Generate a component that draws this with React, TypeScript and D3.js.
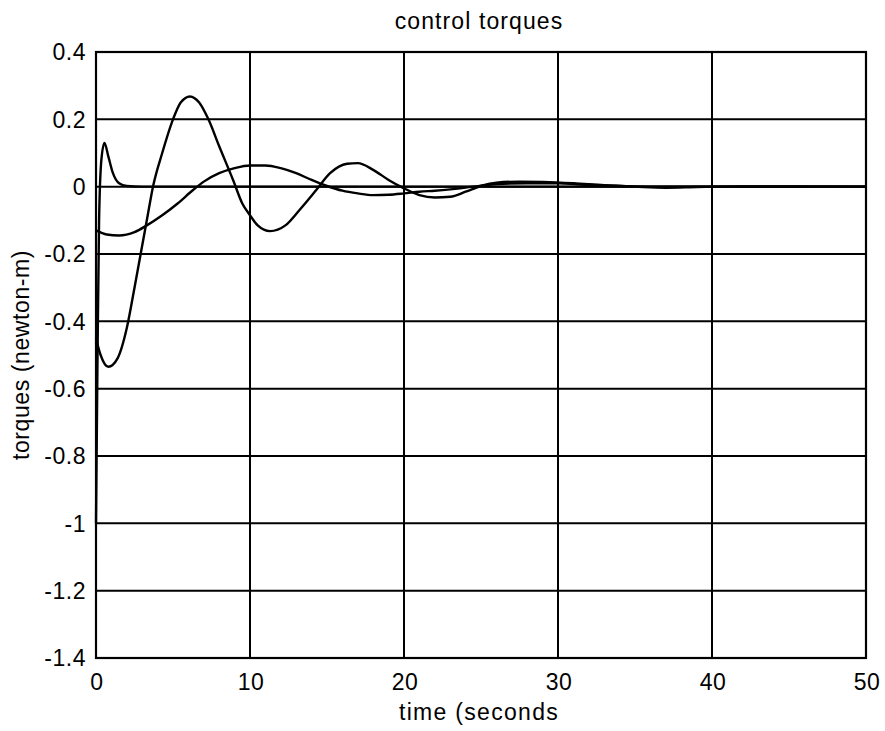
import React, { useEffect, useRef } from 'react';
import * as d3 from 'd3';

// time samples and torques
const timeA = [0, 0.3, 0.8, 1.4, 2, 2.5, 2.9, 3.3, 3.7, 4.3, 5, 5.5, 6.1, 6.7, 7.3, 8, 8.9, 9.5, 10, 10.5, 11.3, 12.3, 13.2, 14.3, 15.2, 16.3, 17, 18, 19, 20, 21, 22, 23, 24, 25, 26, 27.5, 29, 31, 33, 35, 37, 39, 42, 50];
const torqueA = [-0.45, -0.5, -0.535, -0.51, -0.42, -0.3, -0.2, -0.1, 0, 0.1, 0.2, 0.25, 0.268, 0.25, 0.2, 0.12, 0.02, -0.05, -0.085, -0.115, -0.132, -0.115, -0.07, -0.01, 0.04, 0.068, 0.07, 0.05, 0.02, -0.005, -0.025, -0.032, -0.03, -0.015, 0.002, 0.012, 0.015, 0.014, 0.01, 0.004, 0, -0.003, -0.001, 0.001, 0];

const timeB = [0, 0.7, 1.5, 2.5, 3.3, 4.3, 5.3, 6.3, 7, 8, 9, 10, 11, 12, 13, 14, 15, 16, 17, 18, 19, 20, 21, 22, 23, 24, 25, 26, 28, 30, 32, 34, 36, 50];
const torqueB = [-0.13, -0.142, -0.145, -0.135, -0.115, -0.085, -0.05, -0.01, 0.015, 0.04, 0.055, 0.063, 0.063, 0.055, 0.04, 0.02, 0.002, -0.012, -0.02, -0.025, -0.024, -0.02, -0.015, -0.012, -0.008, -0.003, 0.003, 0.008, 0.01, 0.01, 0.005, 0.002, 0, 0];

const timeC = [0, 0.1, 0.2, 0.35, 0.55, 0.8, 1.1, 1.5, 2, 3, 50];
const torqueC = [-1.0, -0.5, -0.1, 0.08, 0.13, 0.09, 0.04, 0.01, 0.002, 0, 0];

const xTicks = [0, 10, 20, 30, 40, 50];
const yTicks = [0.4, 0.2, 0, -0.2, -0.4, -0.6, -0.8, -1, -1.2, -1.4];

const App: React.FC = () => {
  const svgRef = useRef<SVGSVGElement | null>(null);

  useEffect(() => {
    const svg = d3.select(svgRef.current);
    svg.selectAll('*').remove();

    const left = 96, right = 866, top = 52, bottom = 658;
    const font = 'Arial, "Liberation Sans", sans-serif';

    const x = d3.scaleLinear().domain([0, 50]).range([left, right]);
    const y = d3.scaleLinear().domain([-1.4, 0.4]).range([bottom, top]);

    svg.append('rect').attr('width', 885).attr('height', 731).attr('fill', '#fff');

    // grid
    const grid = svg.append('g').attr('stroke', '#000').attr('stroke-width', 2);
    grid.selectAll('line.v')
      .data(xTicks.slice(1, -1))
      .join('line')
      .attr('x1', d => x(d)).attr('x2', d => x(d))
      .attr('y1', top).attr('y2', bottom);
    grid.selectAll('line.h')
      .data(yTicks.slice(1, -1))
      .join('line')
      .attr('class', 'h')
      .attr('x1', left).attr('x2', right)
      .attr('y1', d => y(d)).attr('y2', d => y(d));

    // curves
    const line = d3.line<[number, number]>()
      .x(d => x(d[0]))
      .y(d => y(d[1]))
      .curve(d3.curveMonotoneX);

    const series: [number[], number[]][] = [
      [timeB, torqueB],
      [timeA, torqueA],
      [timeC, torqueC],
    ];
    series.forEach(([t, v]) => {
      svg.append('path')
        .datum(t.map((ti, i) => [ti, v[i]] as [number, number]))
        .attr('fill', 'none')
        .attr('stroke', '#000')
        .attr('stroke-width', 2.4)
        .attr('stroke-linejoin', 'round')
        .attr('d', line);
    });

    // frame
    svg.append('rect')
      .attr('x', left).attr('y', top)
      .attr('width', right - left).attr('height', bottom - top)
      .attr('fill', 'none').attr('stroke', '#000').attr('stroke-width', 2.2);

    // tick labels (plain hyphen for minus, like the original)
    svg.append('g')
      .selectAll('text')
      .data(yTicks)
      .join('text')
      .attr('x', left - 10)
      .attr('y', d => y(d))
      .attr('dy', '0.36em')
      .attr('text-anchor', 'end')
      .attr('font-family', font)
      .attr('font-size', 23)
      .attr('letter-spacing', 0.5)
      .text(d => String(d));

    svg.append('g')
      .selectAll('text')
      .data(xTicks)
      .join('text')
      .attr('x', d => x(d) + 1)
      .attr('y', 690)
      .attr('text-anchor', 'middle')
      .attr('font-family', font)
      .attr('font-size', 23)
      .attr('letter-spacing', 0.5)
      .text(d => d);

    // titles
    svg.append('text')
      .attr('x', 479).attr('y', 29)
      .attr('text-anchor', 'middle')
      .attr('font-family', font).attr('font-size', 23)
      .attr('letter-spacing', 1.1)
      .text('control torques');

    svg.append('text')
      .attr('x', 479).attr('y', 720)
      .attr('text-anchor', 'middle')
      .attr('font-family', font).attr('font-size', 23)
      .attr('letter-spacing', 1.3)
      .text('time (seconds');

    svg.append('text')
      .attr('transform', `translate(29,${(top + bottom) / 2}) rotate(-90)`)
      .attr('text-anchor', 'middle')
      .attr('font-family', font).attr('font-size', 23)
      .attr('letter-spacing', 0.6)
      .text('torques (newton-m)');
  }, []);

  return (
    <svg
      ref={svgRef}
      width={885}
      height={731}
      style={{ position: 'absolute', left: 0, top: 0, display: 'block' }}
    />
  );
};

export default App;
